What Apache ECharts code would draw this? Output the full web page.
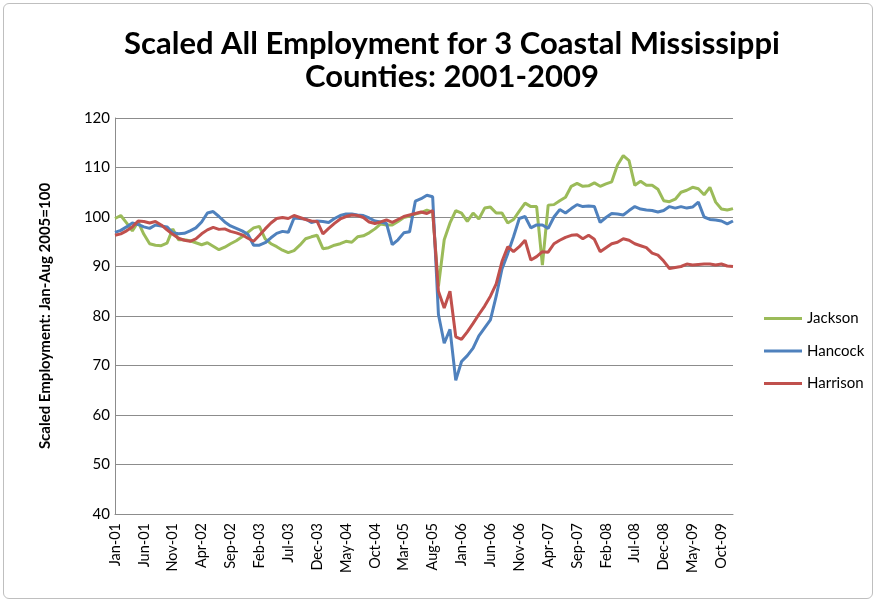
<!DOCTYPE html>
<html>
<head>
<meta charset="utf-8">
<script src="https://cdn.jsdelivr.net/npm/echarts@6/dist/echarts.min.js"></script>
<style>
html,body{margin:0;padding:0;background:#fff;}
#frame{position:absolute;left:3px;top:3px;width:868px;height:594px;border:1px solid #bfbfbf;border-radius:6px;}
#chart{position:absolute;left:0;top:0;width:878px;height:605px;}
</style>
</head>
<body>
<div id="frame"></div>
<div id="chart"></div>
<script>
const monthNames = ['Jan','Feb','Mar','Apr','May','Jun','Jul','Aug','Sep','Oct','Nov','Dec'];
const years = ['01','02','03','04','05','06','07','08','09'];
const categories = [];
years.forEach(y => monthNames.forEach(m => categories.push(m + '-' + y)));

const jackson = [
  99.7,100.3,98.8,97.2,99.0,96.5,94.6,94.3,94.2,94.7,
  97.6,95.4,95.4,95.2,94.8,94.4,94.8,94.1,93.4,93.9,
  94.6,95.2,96.0,96.9,97.8,98.1,95.6,94.6,94.0,93.3,
  92.8,93.2,94.3,95.6,96.0,96.3,93.6,93.8,94.3,94.6,
  95.1,94.9,96.0,96.2,96.8,97.6,98.6,98.4,98.4,99.1,
  99.9,100.2,100.6,100.9,101.4,101.0,86.0,95.4,98.8,101.3,
  100.8,99.1,100.8,99.6,101.8,102.0,100.8,100.8,98.8,99.5,
  101.2,102.8,102.1,102.1,90.3,102.4,102.5,103.3,104.0,106.2,
  106.8,106.2,106.3,106.9,106.2,106.7,107.1,110.5,112.4,111.4,
  106.4,107.2,106.4,106.4,105.6,103.3,103.1,103.6,105.0,105.4,
  106.0,105.7,104.5,106.0,103.0,101.6,101.4,101.7
];
const hancock = [
  96.9,97.3,98.0,98.8,98.5,98.0,97.7,98.4,98.2,98.0,
  96.8,96.6,96.7,97.2,97.8,99.0,100.8,101.1,100.1,99.0,
  98.2,97.7,97.2,96.5,94.3,94.3,94.8,95.8,96.7,97.1,
  96.9,99.8,99.7,99.6,98.9,99.2,99.1,98.9,99.7,100.3,
  100.6,100.6,100.4,100.3,99.8,99.2,99.0,98.7,94.4,95.4,
  96.8,97.0,103.2,103.7,104.4,104.1,80.3,74.5,77.3,67.0,
  70.8,72.0,73.5,76.0,77.6,79.2,84.0,89.5,92.6,96.0,
  99.7,100.1,97.8,98.4,98.4,97.7,100.0,101.5,100.8,101.7,
  102.5,102.1,102.2,102.1,98.9,99.9,100.7,100.6,100.4,101.3,
  102.1,101.6,101.4,101.3,101.0,101.3,102.1,101.8,102.1,101.8,
  102.0,103.0,100.0,99.5,99.4,99.2,98.6,99.2
];
const harrison = [
  96.3,96.6,97.2,98.0,99.2,99.1,98.8,99.1,98.4,97.4,
  96.5,95.7,95.3,95.1,95.6,96.6,97.4,97.9,97.5,97.6,
  97.1,96.8,96.4,95.7,95.1,96.3,97.6,98.8,99.7,99.9,
  99.7,100.3,99.9,99.5,99.2,99.1,96.6,97.7,98.7,99.6,
  100.1,100.4,100.3,99.9,99.0,98.7,99.0,99.4,98.9,99.5,
  100.1,100.4,100.7,101.0,100.7,101.3,85.0,81.6,85.0,75.8,
  75.3,76.8,78.5,80.3,82.0,84.0,86.5,91.0,94.0,93.0,
  94.0,95.3,91.3,92.0,93.0,92.9,94.6,95.3,95.9,96.3,
  96.4,95.6,96.3,95.5,93.0,93.8,94.6,94.9,95.6,95.3,
  94.6,94.2,93.8,92.7,92.3,91.1,89.6,89.8,90.0,90.5,
  90.3,90.4,90.5,90.5,90.3,90.5,90.1,90.0
];
const yTicks = {min: 40, max: 120, interval: 10};

const chart = echarts.init(document.getElementById('chart'), null, {renderer: 'canvas'});
const FONT = 'Lato';
const gridColor = '#8c8c8c';
const mk = (name, data, color) => ({
  name, type: 'line', data, symbol: 'none', smooth: false,
  lineStyle: {color, width: 3}, itemStyle: {color}
});
chart.setOption({
  animation: false,
  title: {
    text: 'Scaled All Employment for 3 Coastal Mississippi\nCounties: 2001-2009',
    left: 447, textAlign: 'center', top: 22,
    textStyle: {fontFamily: FONT, fontSize: 31, fontWeight: 'bold', color: '#000', lineHeight: 33}
  },
  legend: {
    orient: 'vertical', left: 759, top: 305,
    icon: 'rect', itemWidth: 38, itemHeight: 3, itemGap: 15.5,
    textStyle: {fontFamily: FONT, fontSize: 15, color: '#000', lineHeight: 17},
    data: ['Jackson', 'Hancock', 'Harrison']
  },
  grid: {left: 115, right: 145, top: 118, bottom: 91, containLabel: false},
  xAxis: {
    type: 'category', data: categories, boundaryGap: false,
    axisLine: {lineStyle: {color: gridColor, width: 1}},
    axisTick: {show: false},
    axisLabel: {interval: 4, rotate: 90, fontFamily: FONT, fontSize: 14.5, color: '#000', margin: 9}
  },
  yAxis: {
    type: 'value', min: yTicks.min, max: yTicks.max, interval: yTicks.interval,
    name: 'Scaled Employment: Jan-Aug 2005=100', nameLocation: 'middle', nameGap: 62,
    nameTextStyle: {fontFamily: FONT, fontSize: 15, fontWeight: 'bold', color: '#000'},
    axisLine: {show: true, lineStyle: {color: gridColor, width: 1}},
    axisTick: {show: false},
    axisLabel: {fontFamily: FONT, fontSize: 15, color: '#000', margin: 5},
    splitLine: {lineStyle: {color: gridColor, width: 1}}
  },
  series: [
    mk('Jackson', jackson, '#9BBB59'),
    mk('Hancock', hancock, '#4F81BD'),
    mk('Harrison', harrison, '#C0504D')
  ]
});
</script>
</body>
</html>
